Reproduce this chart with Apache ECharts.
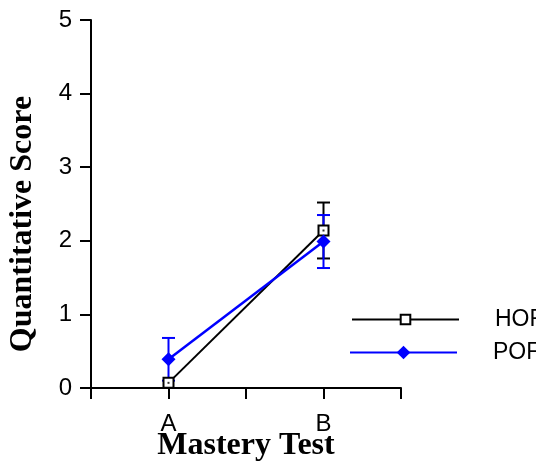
<!DOCTYPE html>
<html><head><meta charset="utf-8">
<script src="https://cdn.jsdelivr.net/npm/echarts@6/dist/echarts.min.js"></script>
<style>html,body{margin:0;padding:0;background:#fff}#c{width:536px;height:464px}</style>
</head><body><div id="c"></div>
<script>
const categories = ['A', 'B'];
const categoryPos = [1, 3];
const hofMean = [0.07, 2.14];
const hofErr = [0, 0.38];
const pofMean = [0.39, 1.99];
const pofErr = [0.29, 0.36];
const seriesNames = ['HOF', 'POF'];
const xTitle = 'Mastery Test';
const yTitle = 'Quantitative Score';

const BLUE = '#0000ff';
const tickFont = '"Liberation Sans", Arial, sans-serif';
const titleFont = '"Liberation Serif", "Times New Roman", serif';

function errData(mean, err) {
  return mean.map((m, i) => [categoryPos[i], m - err[i], m + err[i], err[i]]);
}
function errRender(color) {
  return function (params, api) {
    if (api.value(3) <= 0) return null;
    const x = api.value(0);
    const p1 = api.coord([x, api.value(2)]);
    const p2 = api.coord([x, api.value(1)]);
    const hw = 6.5;
    const st = { stroke: color, lineWidth: 2 };
    return {
      type: 'group',
      children: [
        { type: 'line', shape: { x1: p1[0], y1: p1[1], x2: p2[0], y2: p2[1] }, style: st },
        { type: 'line', shape: { x1: p1[0] - hw, y1: p1[1], x2: p1[0] + hw, y2: p1[1] }, style: st },
        { type: 'line', shape: { x1: p2[0] - hw, y1: p2[1], x2: p2[0] + hw, y2: p2[1] }, style: st }
      ]
    };
  };
}

const legendText = { color: '#000', fontSize: 23, fontFamily: tickFont, padding: [0, 0, 0, 31], overflow: 'none' };

const chart = echarts.init(document.getElementById('c'), null, { renderer: 'canvas' });
chart.setOption({
  backgroundColor: '#fff',
  animation: false,
  grid: { left: 91, right: 135, top: 20, bottom: 76, containLabel: false },
  xAxis: {
    type: 'value', min: 0, max: 4, interval: 1,
    axisLine: { lineStyle: { color: '#000', width: 2 } },
    axisTick: { show: true, length: 11, lineStyle: { color: '#000', width: 2 } },
    splitLine: { show: false },
    axisLabel: {
      color: '#000', fontSize: 24, fontFamily: tickFont, margin: 24,
      formatter: v => { const i = categoryPos.indexOf(v); return i >= 0 ? categories[i] : ''; }
    }
  },
  yAxis: {
    type: 'value', min: 0, max: 5, interval: 1,
    axisLine: { show: true, lineStyle: { color: '#000', width: 2 } },
    axisTick: { show: true, length: 11, lineStyle: { color: '#000', width: 2 } },
    splitLine: { show: false },
    axisLabel: { color: '#000', fontSize: 24, fontFamily: tickFont, margin: 19 }
  },
  legend: [
    {
      data: [seriesNames[0]], left: 346, top: 303,
      itemWidth: 107, itemHeight: 12, textStyle: legendText
    },
    {
      data: [seriesNames[1]], left: 344, top: 336,
      itemWidth: 107, itemHeight: 17, textStyle: legendText
    }
  ],
  graphic: [
    { type: 'text', x: 23, y: 224, rotation: Math.PI / 2,
      style: { text: yTitle, font: 'bold 32px ' + titleFont, fill: '#000', textAlign: 'center', textVerticalAlign: 'middle' } },
    { type: 'text', x: 246, y: 446,
      style: { text: xTitle, font: 'bold 32px ' + titleFont, fill: '#000', textAlign: 'center', textVerticalAlign: 'middle' } }
  ],
  series: [
    { type: 'custom', name: 'HOF err', renderItem: errRender('#000'), data: errData(hofMean, hofErr), z: 1, silent: true },
    { type: 'custom', name: 'POF err', renderItem: errRender(BLUE), data: errData(pofMean, pofErr), z: 1, silent: true },
    {
      type: 'line', name: seriesNames[0], z: 2,
      data: hofMean.map((m, i) => [categoryPos[i], m]),
      symbol: 'emptyRect', symbolSize: 10,
      lineStyle: { color: '#000', width: 2 },
      itemStyle: { color: '#000', borderWidth: 2 }
    },
    {
      type: 'scatter', name: 'HOF dot', z: 3,
      data: hofMean.map((m, i) => [categoryPos[i], m]),
      symbol: 'rect', symbolSize: 2, itemStyle: { color: '#000' }, silent: true
    },
    {
      type: 'line', name: seriesNames[1], z: 4,
      data: pofMean.map((m, i) => [categoryPos[i], m]),
      symbol: 'diamond', symbolSize: 14, showSymbol: true,
      lineStyle: { color: BLUE, width: 2.5 },
      itemStyle: { color: BLUE }
    }
  ]
});
</script></body></html>
